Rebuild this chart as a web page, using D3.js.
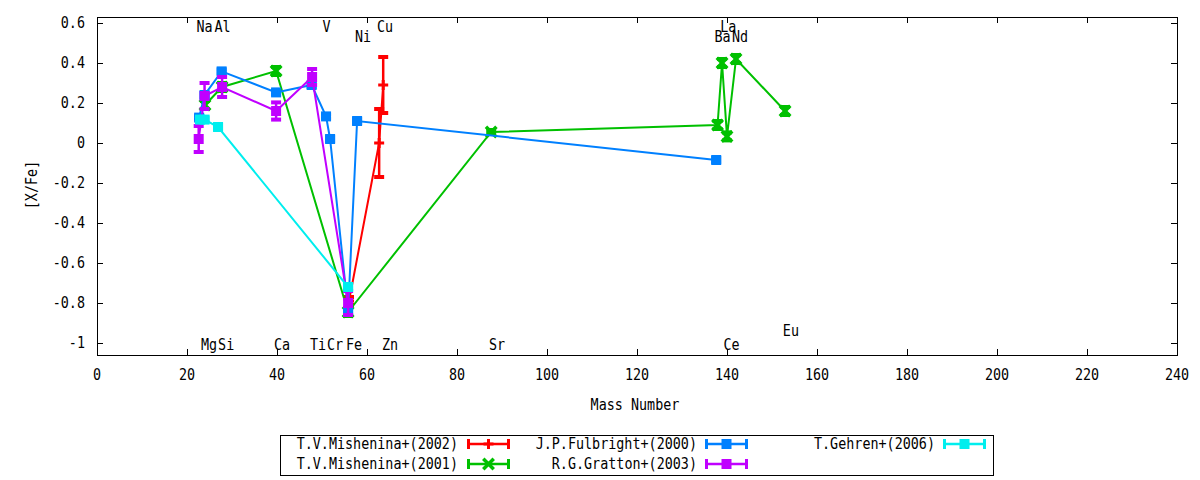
<!DOCTYPE html>
<html><head><meta charset="utf-8">
<script src="https://cdn.jsdelivr.net/npm/d3@7"></script>
<style>
body{margin:0;background:#fff}
text{font-family:"DejaVu Sans Mono",monospace;font-size:15.5px;fill:#000}
</style>
</head><body>
<svg id="chart" width="1200" height="480"></svg>
<script>
// ---------- data ----------
const xTicks = [0,20,40,60,80,100,120,140,160,180,200,220,240];
const yTicks = [0.6,0.4,0.2,0,-0.2,-0.4,-0.6,-0.8,-1];

const seriesNames  = ["T.V.Mishenina+(2002)","T.V.Mishenina+(2001)","J.P.Fulbright+(2000)","R.G.Gratton+(2003)","T.Gehren+(2006)"];
const seriesColors = ["#ff0000","#00c000","#0080ff","#c000ff","#00eeee"];
const seriesSymbols = ["plus","cross","square","square","square"];

// [mass number, [X/Fe], error]
const mishenina2002 = [[56.0,-0.79,0.02],[62.7,0.0,0.17],[63.6,0.29,0.14]];
const mishenina2001 = [[24.0,0.19,0.02],[27.8,0.28,0.02],[39.8,0.36,0.02],[55.8,-0.845,0.02],[87.6,0.055,0.01],
                       [137.9,0.09,0.02],[138.9,0.40,0.02],[140.0,0.033,0.02],[142.0,0.42,0.02],[152.9,0.16,0.02]];
const fulbright2000 = [[22.7,0.127,0.01],[23.9,0.24,0.01],[27.7,0.358,0.01],[39.8,0.253,0.01],[47.7,0.29,0.01],
                       [50.9,0.133,0.01],[51.8,0.02,0.01],[55.8,-0.84,0.01],[57.8,0.11,0.01],[137.6,-0.085,0.01]];
const gratton2003   = [[22.6,0.02,0.065],[23.9,0.235,0.065],[27.8,0.28,0.05],[39.8,0.16,0.043],[47.8,0.33,0.04],[55.8,-0.80,0.06]];
const gehren2006    = [[22.9,0.117,0.01],[23.9,0.117,0.01],[26.9,0.08,0.01],[55.8,-0.72,0.01]];
const seriesData = [mishenina2002, mishenina2001, fulbright2000, gratton2003, gehren2006];

// element labels: [name, mass position, [X/Fe] position]
const elementLabels = [
  ["Na",23.9,0.58],["Al",27.9,0.58],["V",51.0,0.58],["Cu",64.0,0.58],["La",140.3,0.58],
  ["Ni",59.1,0.53],["Ba",139.0,0.53],["Nd",142.9,0.53],
  ["Mg",24.9,-1.01],["Si",28.7,-1.01],["Ca",41.1,-1.01],["Ti",49.1,-1.01],["Cr",52.9,-1.01],
  ["Fe",57.1,-1.01],["Zn",65.1,-1.01],["Sr",88.9,-1.01],["Ce",141.0,-1.01],["Eu",154.2,-0.94]
];

// ---------- layout ----------
const svg = d3.select("#chart");
const L = 97, R = 1177, T = 17, B = 355;
const x = d3.scaleLinear().domain([0,240]).range([L,R]);
const y = d3.scaleLinear().domain([-1.06,0.63]).range([B,T]);
const tickLen = 6;
const SX = 0.865; // horizontal condensing of glyphs

function label(parent, tx, ty, str, anchor, extra){
  return parent.append("text")
    .attr("transform",`translate(${tx},${ty})${extra||""} scale(${SX},1)`)
    .attr("dy","0.35em").attr("text-anchor",anchor).text(str);
}

// ticks (mirrored, inward)
const tk = svg.append("g").attr("stroke","#000").attr("stroke-width",1);
xTicks.forEach(v=>{
  const px = Math.round(x(v))+0.5;
  tk.append("line").attr("x1",px).attr("x2",px).attr("y1",B).attr("y2",B-tickLen);
  tk.append("line").attr("x1",px).attr("x2",px).attr("y1",T).attr("y2",T+tickLen);
});
yTicks.forEach(v=>{
  const py = Math.round(y(v))+0.5;
  tk.append("line").attr("x1",L).attr("x2",L+tickLen).attr("y1",py).attr("y2",py);
  tk.append("line").attr("x1",R).attr("x2",R-tickLen).attr("y1",py).attr("y2",py);
});
svg.append("rect").attr("x",L+0.5).attr("y",T+0.5).attr("width",R-L).attr("height",B-T)
  .attr("fill","none").attr("stroke","#000").attr("stroke-width",1);

// tick labels
const gx = svg.append("g");
xTicks.forEach(d=>label(gx, x(d), 375, d, "middle"));
const gy = svg.append("g");
yTicks.forEach(d=>label(gy, 85, y(d), d, "end"));

// axis titles
label(svg, 635, 405, "Mass Number", "middle");
label(svg, 32, 185, "[X/Fe]", "middle", " rotate(-90)");

// element labels
const ge = svg.append("g");
elementLabels.forEach(d=>label(ge, x(d[1]), y(d[2]), d[0], "middle"));

// ---------- marks ----------
function drawSymbol(g, sym, cx, cy, color){
  if(sym==="square"){
    g.append("rect").attr("x",cx-5).attr("y",cy-5).attr("width",10).attr("height",10).attr("fill",color);
  } else if(sym==="plus"){
    g.append("path").attr("d",`M${cx-5},${cy}H${cx+5}M${cx},${cy-5}V${cy+5}`)
      .attr("stroke",color).attr("stroke-width",3).attr("fill","none");
  } else {
    g.append("path").attr("d",`M${cx-4},${cy-4}L${cx+4},${cy+4}M${cx-4},${cy+4}L${cx+4},${cy-4}`)
      .attr("stroke",color).attr("stroke-width",3.5).attr("fill","none").attr("stroke-linecap","square");
  }
}
function drawErr(g, cx, y1, y2, color){
  g.append("line").attr("x1",cx).attr("x2",cx).attr("y1",y1).attr("y2",y2).attr("stroke",color).attr("stroke-width",2.5);
  [y1,y2].forEach(yy=>g.append("line").attr("x1",cx-5).attr("x2",cx+5).attr("y1",yy).attr("y2",yy)
     .attr("stroke",color).attr("stroke-width",4));
}

const line = d3.line().x(d=>x(d[0])).y(d=>y(d[1]));
seriesData.forEach((data,i)=>{
  const c = seriesColors[i];
  const g = svg.append("g");
  g.append("path").datum(data).attr("d",line).attr("fill","none").attr("stroke",c).attr("stroke-width",2);
  data.forEach(d=>drawErr(g, x(d[0]), y(d[1]-d[2]), y(d[1]+d[2]), c));
  data.forEach(d=>drawSymbol(g, seriesSymbols[i], x(d[0]), y(d[1]), c));
});

// ---------- legend ----------
svg.append("rect").attr("x",280.5).attr("y",435.5).attr("width",713).attr("height",40)
  .attr("fill","none").attr("stroke","#000").attr("stroke-width",1);
const legTextX = [458,697,935], legSampleX = [467,705,943], legRowY = [444,464];
seriesNames.forEach((name,i)=>{
  const col = Math.floor(i/2), row = i%2;
  const ly = legRowY[row], sx = legSampleX[col], c = seriesColors[i];
  const g = svg.append("g");
  label(g, legTextX[col], ly, name, "end");
  g.append("line").attr("x1",sx).attr("x2",sx+43).attr("y1",ly).attr("y2",ly).attr("stroke",c).attr("stroke-width",2.5);
  [sx+1.5,sx+41.5].forEach(xx=>g.append("line").attr("x1",xx).attr("x2",xx).attr("y1",ly-5).attr("y2",ly+5)
     .attr("stroke",c).attr("stroke-width",3));
  drawSymbol(g, seriesSymbols[i], sx+21.5, ly, c);
});
</script>
</body></html>
